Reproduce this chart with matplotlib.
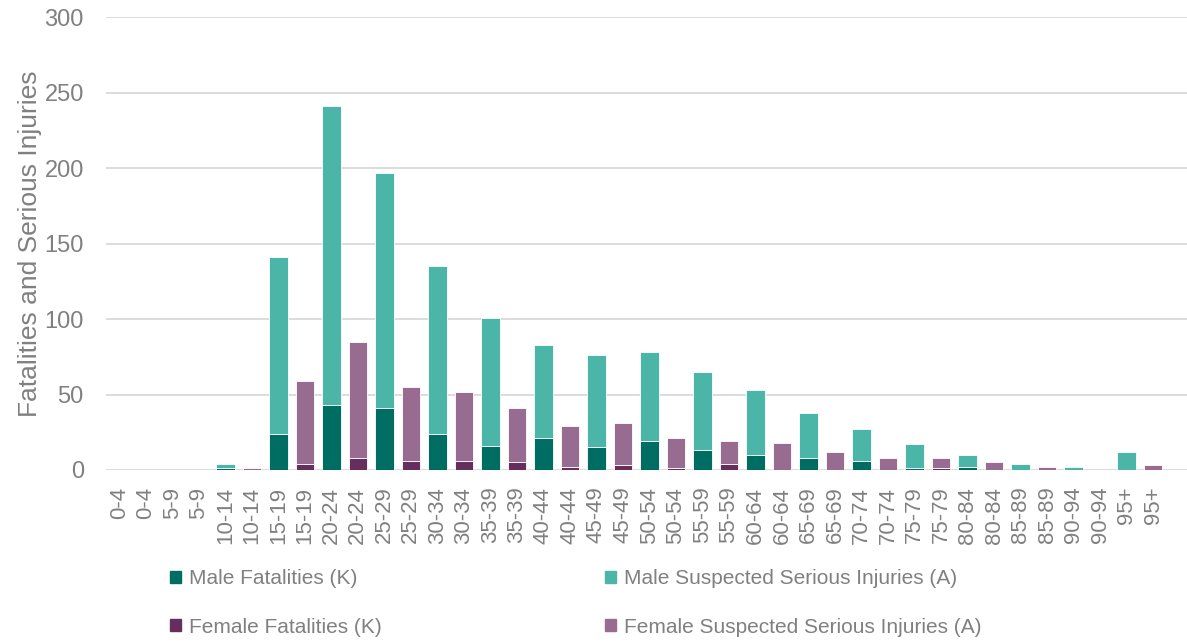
import numpy as np
import matplotlib
matplotlib.use('Agg')
import matplotlib.pyplot as plt
from matplotlib.patches import Patch

plt.rcParams['font.family'] = ['Liberation Sans', 'DejaVu Sans']

# age groups, each shown twice (male bar then female bar)
age_groups = ['0-4', '5-9', '10-14', '15-19', '20-24', '25-29', '30-34', '35-39',
              '40-44', '45-49', '50-54', '55-59', '60-64', '65-69', '70-74',
              '75-79', '80-84', '85-89', '90-94', '95+']

male_fatal = [0, 0, 1, 24, 43, 41, 24, 16, 21, 15, 19, 13, 10, 8, 6, 1, 2, 0, 0, 0]
male_serious = [0, 0, 3, 117, 198, 156, 111, 85, 62, 61, 59, 52, 43, 30, 21, 16, 8, 4, 2, 12]
female_fatal = [0, 0, 0, 4, 8, 6, 6, 5, 2, 3, 1, 4, 0, 0, 0, 1, 0, 0, 0, 0]
female_serious = [0, 0, 1, 55, 77, 49, 46, 36, 27, 28, 20, 15, 18, 12, 8, 7, 5, 2, 0, 3]

c_male_k = '#006D62'
c_male_a = '#4BB6A8'
c_fem_k = '#652E5E'
c_fem_a = '#986C91'
grey = '#808080'

n = len(age_groups)
labels = [g for g in age_groups for _ in range(2)]
x_male = np.arange(n) * 2
x_fem = x_male + 1

fig = plt.figure(figsize=(11.87, 6.44), dpi=100)
ax = fig.add_axes([106 / 1187, 1 - 470 / 644, 1 - 106 / 1187, (470 - 17.3) / 644])

w = 0.7
bar_kw = dict(width=w, edgecolor='white', linewidth=0.6, zorder=3)
ax.bar(x_male, male_fatal, color=c_male_k, **bar_kw)
ax.bar(x_male, male_serious, bottom=male_fatal, color=c_male_a, **bar_kw)
ax.bar(x_fem, female_fatal, color=c_fem_k, **bar_kw)
ax.bar(x_fem, female_serious, bottom=female_fatal, color=c_fem_a, **bar_kw)

ax.set_xlim(-0.5, 40.28)
ax.set_ylim(0, 300)
ax.set_yticks(np.arange(0, 301, 50))
ax.set_xticks(np.arange(2 * n))
ax.set_xticklabels(labels, rotation=90, fontsize=16, color=grey)
ax.tick_params(axis='y', labelsize=17, labelcolor=grey, length=0, pad=16)
ax.tick_params(axis='x', length=0, pad=12)
ax.grid(axis='y', color='#D9D9D9', linewidth=1.3, zorder=0)
for s in ax.spines.values():
    s.set_visible(False)

fig.text(30 / 1187, 1 - 244 / 644, 'Fatalities and Serious Injuries', rotation=90,
         ha='center', va='center', fontsize=19, color=grey)

leg_kw = dict(loc='center left', frameon=False, fontsize=15, labelcolor=grey,
              handlelength=0.55, handleheight=0.55, handletextpad=0.35,
              labelspacing=1.4, borderpad=0, borderaxespad=0)
fig.legend(handles=[Patch(color=c_male_k, label='Male Fatalities (K)'),
                    Patch(color=c_fem_k, label='Female Fatalities (K)')],
           bbox_to_anchor=(170 / 1187, 1 - 603 / 644), **leg_kw)
fig.legend(handles=[Patch(color=c_male_a, label='Male Suspected Serious Injuries (A)'),
                    Patch(color=c_fem_a, label='Female Suspected Serious Injuries (A)')],
           bbox_to_anchor=(605 / 1187, 1 - 603 / 644), **leg_kw)

fig.savefig('out.png', dpi=100)
